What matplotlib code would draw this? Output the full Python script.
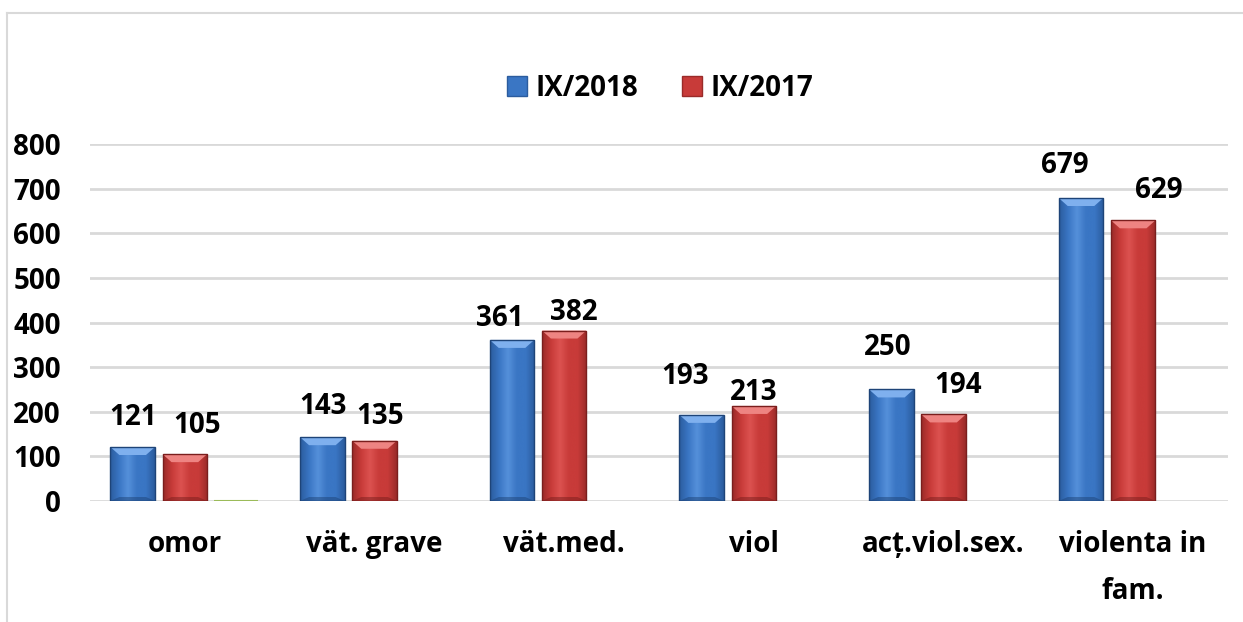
import numpy as np
import matplotlib.pyplot as plt
from matplotlib.colors import LinearSegmentedColormap
from matplotlib.patches import Polygon, Patch
from matplotlib.lines import Line2D

plt.rcParams['font.family'] = ['Open Sans', 'Noto Sans', 'DejaVu Sans']
plt.rcParams['font.weight'] = 'bold'

# date
categories = ['omor', 'vät. grave', 'vät.med.', 'viol', 'acț.viol.sex.', 'violenta in\nfam.']
ix_2018 = [121, 143, 361, 193, 250, 679]
ix_2017 = [105, 135, 382, 213, 194, 629]
extra = [0, np.nan, np.nan, np.nan, np.nan, np.nan]   # seria goala (linie verde la omor)
yticks = [0, 100, 200, 300, 400, 500, 600, 700, 800]

# deplasarea etichetelor (px) fata de varful barei
off_2018 = [(0, 30), (1, 31), (-12, 21), (-17, 38), (-4, 42), (-16, 32)]
off_2017 = [(12, 29), (6, 24), (10, 18), (0, 13), (15, 29), (26, 30)]

W, H = 1243, 622
fig = plt.figure(figsize=(W / 100, H / 100), dpi=100)
ax = fig.add_axes([90 / W, 1 - 501 / H, (1228 - 90) / W, (501 - 144) / H])

x = np.arange(len(categories))
bw = 0.235
ax.set_xlim(-0.5, len(categories) - 0.5)
ax.set_ylim(0, 800)

# conversie px -> unitati de date
px_x = (len(categories)) / (1228 - 90)
px_y = 800 / (501 - 144)

FS = 20

series = [
    (ix_2018, x - 0.275, ('#2B5C9E', '#3A76C4', '#5590DA'), '#7FB0EE', '#1E4478', off_2018),
    (ix_2017, x, ('#9A2B29', '#C83B39', '#DC5250'), '#EE8482', '#7A1E1D', off_2017),
]

for vals, pos, (dark, base, light), top_col, bot_col, offs in series:
    bars = ax.bar(pos, vals, width=bw, color=base, zorder=2, linewidth=0)
    cmap = LinearSegmentedColormap.from_list('g', [dark, base, light, base, base, dark])
    for b, v, (dx, dy) in zip(bars, vals, offs):
        x0, w, h = b.get_x(), b.get_width(), b.get_height()
        im = ax.imshow(np.linspace(0, 1, 64)[None, :], extent=(x0, x0 + w, 0, h),
                       cmap=cmap, aspect='auto', zorder=2.2, interpolation='bicubic')
        im.set_clip_path(b)
        bx, by = 9 * px_x, 8 * px_y
        ax.add_patch(Polygon([(x0, h), (x0 + w, h), (x0 + w - bx, h - by), (x0 + bx, h - by)],
                             closed=True, fc=top_col, ec='none', zorder=2.3))
        ax.add_patch(Polygon([(x0, 0), (x0 + w, 0), (x0 + w - bx, by * 0.5), (x0 + bx, by * 0.5)],
                             closed=True, fc=bot_col, ec='none', alpha=0.5, zorder=2.3))
        ax.add_patch(plt.Rectangle((x0, 0), w, h, fill=False, ec=bot_col, lw=1, zorder=2.4))
        ax.annotate(str(v), (x0 + w / 2, h), xytext=(dx, dy), textcoords='offset pixels',
                    ha='center', va='center', fontsize=FS, fontweight='bold', zorder=5)

ax.bar(x + 0.27, extra, width=bw, color='#9BBB59', edgecolor='#9BBB59', linewidth=1.5, zorder=2)

ax.set_xlim(-0.5, len(categories) - 0.5)
ax.set_ylim(0, 800)

ax.set_yticks(yticks)
ax.yaxis.grid(True, color='#D9D9D9', linewidth=2, zorder=0)
ax.set_axisbelow(True)
for s in ax.spines.values():
    s.set_visible(False)
ax.tick_params(axis='y', length=0, pad=21, labelsize=FS)
ax.tick_params(axis='x', length=0, pad=21, labelsize=FS)
ax.set_xticks(x)
ax.set_xticklabels(categories, fontweight='bold')
for t in ax.get_yticklabels():
    t.set_fontweight('bold')
ax.get_xticklabels()[-1].set_linespacing(1.8)

handles = [Patch(facecolor='#3A76C4', edgecolor='#2B5C9E', label='IX/2018'),
           Patch(facecolor='#C83B39', edgecolor='#9A2B29', label='IX/2017')]
fig.legend(handles=handles, loc='center', bbox_to_anchor=(660 / W, 1 - 88 / H), ncol=2,
           frameon=False, prop={'size': FS, 'weight': 'bold'}, handlelength=0.7,
           handleheight=0.7, handletextpad=0.3, columnspacing=1.6)

# chenarul graficului
fig.add_artist(Line2D([7 / W, 7 / W], [0, 1 - 13 / H], color='#D9D9D9', lw=1.5))
fig.add_artist(Line2D([7 / W, 1], [1 - 13 / H, 1 - 13 / H], color='#D9D9D9', lw=1.5))

fig.savefig('out.png', dpi=100)
